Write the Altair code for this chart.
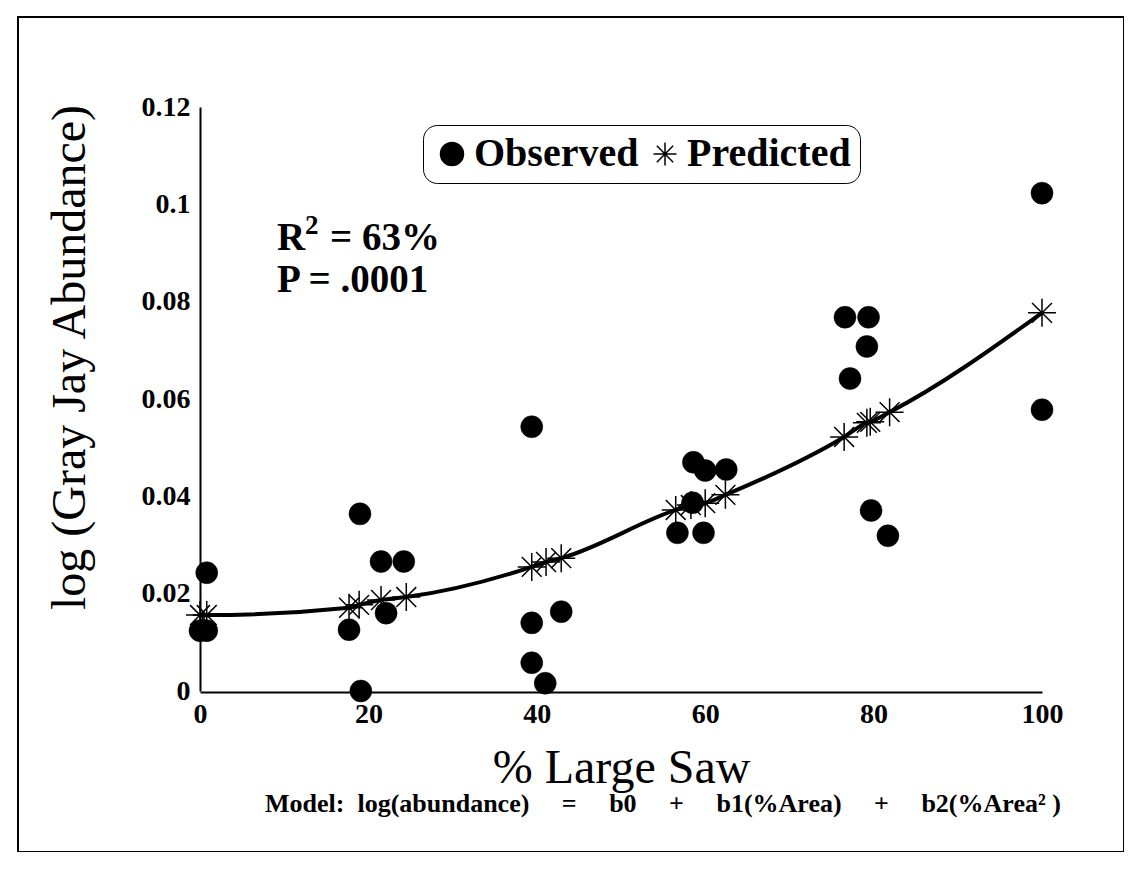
import altair as alt
import pandas as pd

# ---- data ----
x_obs = [0, 0.8, 0.8, 17.7, 19.0, 19.1, 21.5, 22.1, 24.2,
         39.4, 39.4, 39.4, 41.0, 42.9,
         56.7, 58.5, 58.6, 59.8, 60.0, 62.5,
         76.6, 77.2, 79.4, 79.2, 79.7, 81.7,
         100, 100]
y_obs = [0.0124, 0.0124, 0.0243, 0.0126, 0.0364, 0.0000, 0.0266, 0.0160, 0.0266,
         0.0543, 0.0140, 0.0058, 0.0016, 0.0163,
         0.0325, 0.0387, 0.0470, 0.0325, 0.0453, 0.0455,
         0.0768, 0.0642, 0.0768, 0.0708, 0.0371, 0.0319,
         0.1023, 0.0578]

x_pred = [0, 0.8, 17.7, 18.9, 21.5, 24.5, 39.4, 41.1, 42.9,
          56.5, 58.3, 60.0, 62.4, 76.5, 79.2, 79.6, 81.9, 100]
y_pred = [0.0156, 0.0156, 0.0171, 0.0177, 0.0187, 0.0193, 0.0255, 0.0265, 0.0273,
          0.0372, 0.0382, 0.0386, 0.0403, 0.0522, 0.0551, 0.0553, 0.0573, 0.0777]

x_ticks = [0, 20, 40, 60, 80, 100]
y_ticks = [0, 0.02, 0.04, 0.06, 0.08, 0.1, 0.12]

series_names = ["Observed", "Predicted"]
x_title = "% Large Saw"
y_title = "log (Gray Jay Abundance)"
r_text, r_sup, r_rest = "R", "2", "= 63%"
p_text = "P = .0001"
GAP = "\u2003\u00a0"
model_text = ("Model:\u00a0\u00a0" + "log(abundance)" + GAP + "=" + GAP + "b0" + GAP + "+" + GAP +
              "b1(%Area)" + GAP + "+" + GAP + "b2(%Area\u00b2\u00a0)")

obs_df = pd.DataFrame({"x": x_obs, "y": y_obs, "series": series_names[0]})
pred_df = pd.DataFrame({"x": x_pred, "y": y_pred, "series": series_names[1]})

SERIF = "Liberation Serif"
STAR = "M-1,0L1,0M0,-1L0,1M-0.71,-0.71L0.71,0.71M-0.71,0.71L0.71,-0.71"

xscale = alt.Scale(domain=[0, 100], range=[182, 1024], nice=False, zero=False)
yscale = alt.Scale(domain=[0, 0.12], range=[674, 90], nice=False, zero=False)

xaxis = alt.Axis(values=x_ticks, title=x_title, offset=-160, ticks=False, grid=False,
                 domainColor="black", domainWidth=2,
                 labelFont=SERIF, labelFontSize=28, labelFontWeight="bold", labelColor="black",
                 labelPadding=8, labelFlush=False,
                 titleFont=SERIF, titleFontSize=48, titleFontWeight="normal", titleColor="black",
                 titleY=90, titleBaseline="alphabetic")
yaxis = alt.Axis(values=y_ticks, title=y_title, offset=-182, ticks=False, grid=False,
                 format="~g",
                 domainColor="black", domainWidth=2,
                 labelFont=SERIF, labelFontSize=28, labelFontWeight="bold", labelColor="black",
                 labelPadding=10, labelFlush=False,
                 titleFont=SERIF, titleFontSize=48, titleFontWeight="normal", titleColor="black",
                 titleX=-130, titleY=340, titleBaseline="middle", titleAngle=-90)

shape_scale = alt.Scale(domain=series_names, range=["circle", STAR])
fill_scale = alt.Scale(domain=series_names, range=["black", "transparent"])
stroke_scale = alt.Scale(domain=series_names, range=["black", "black"])
legend = alt.Legend(title=None, orient="none", legendX=405, legendY=108, direction="horizontal",
                    strokeColor="black", cornerRadius=14, padding=9,
                    labelFont=SERIF, labelFontSize=40, labelFontWeight="bold", labelColor="black",
                    labelLimit=400,
                    symbolSize=529, symbolStrokeColor="black", symbolStrokeWidth=1.5,
                    columnPadding=6, labelOffset=2)

line = alt.Chart(pred_df).mark_line(color="black", strokeWidth=4, interpolate="monotone").encode(
    x=alt.X("x:Q", scale=xscale, axis=xaxis),
    y=alt.Y("y:Q", scale=yscale, axis=yaxis),
)

circles = alt.Chart(obs_df).mark_point(size=484, strokeWidth=0.5, opacity=1).encode(
    x=alt.X("x:Q", scale=xscale),
    y=alt.Y("y:Q", scale=yscale),
    shape=alt.Shape("series:N", scale=shape_scale, legend=legend),
    fill=alt.Fill("series:N", scale=fill_scale, legend=legend),
    stroke=alt.Stroke("series:N", scale=stroke_scale, legend=legend),
)

stars = alt.Chart(pred_df).mark_point(size=784, strokeWidth=1.5, opacity=1).encode(
    x=alt.X("x:Q", scale=xscale),
    y=alt.Y("y:Q", scale=yscale),
    shape=alt.Shape("series:N", scale=shape_scale, legend=legend),
    fill=alt.Fill("series:N", scale=fill_scale, legend=legend),
    stroke=alt.Stroke("series:N", scale=stroke_scale, legend=legend),
)

def note(txt, px, py, size, weight="bold"):
    return alt.Chart(pd.DataFrame({"t": [txt]})).mark_text(
        font=SERIF, fontSize=size, fontWeight=weight, color="black",
        align="left", baseline="alphabetic"
    ).encode(x=alt.value(px), y=alt.value(py), text="t:N")

chart = alt.layer(
    line, circles, stars,
    note(r_text, 259, 233, 39),
    note(r_sup, 287, 217, 27),
    note(r_rest, 312, 233, 39),
    note(p_text, 259, 275, 39),
    note(model_text, 247, 795, 26),
).properties(
    width=1106, height=835,
    autosize=alt.AutoSizeParams(type="none"),
    padding={"left": 10, "top": 9, "right": 0, "bottom": 0},
    background="white",
).configure_view(stroke="black", strokeWidth=2)

chart.save("out.html", embed_options={"renderer": "svg", "actions": False})
